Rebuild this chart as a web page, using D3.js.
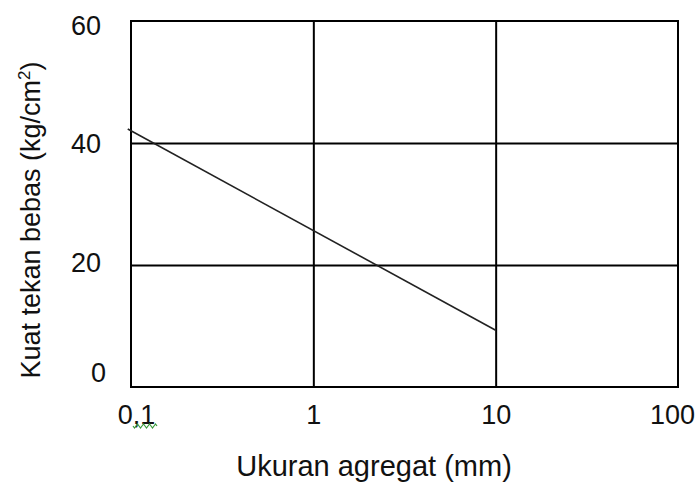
<!DOCTYPE html>
<html>
<head>
<meta charset="utf-8">
<script src="https://cdn.jsdelivr.net/npm/d3@7"></script>
<style>
  body { margin: 0; background: #fff; }
  svg { display: block; }
  text { font-family: "Liberation Sans", Arial, sans-serif; fill: #111; }
</style>
</head>
<body>
<svg width="699" height="482"></svg>
<script>
// aggregate size (mm) and unconfined compressive strength (kg/cm2)
var sizes = [0.096, 10];
var strength = [42.3, 9.3];

var xTicks = [0.1, 1, 10, 100];
var xTickLabels = ["0,1", "1", "10", "100"];
var yTicks = [0, 20, 40, 60];

var svg = d3.select("svg");
var plotLeft = 131, plotRight = 678, plotTop = 21, plotBottom = 387;

var xs = d3.scaleLog().domain([0.1, 100]).range([plotLeft, plotRight]);
var ys = d3.scaleLinear().domain([0, 60]).range([plotBottom, plotTop]);

// grid lines
svg.append("g")
    .attr("transform", "translate(0," + plotBottom + ")")
    .call(d3.axisBottom(xs).tickValues([1, 10]).tickSize(-(plotBottom - plotTop)).tickFormat(""))
    .call(function(g) { g.select(".domain").remove(); })
    .selectAll("line").attr("stroke", "#000").attr("stroke-width", 2);

svg.append("g")
    .attr("transform", "translate(" + plotLeft + ",0)")
    .call(d3.axisLeft(ys).tickValues([20, 40]).tickSize(-(plotRight - plotLeft)).tickFormat(""))
    .call(function(g) { g.select(".domain").remove(); })
    .selectAll("line").attr("stroke", "#000").attr("stroke-width", 2);

// frame
svg.append("rect")
    .attr("x", plotLeft).attr("y", plotTop)
    .attr("width", plotRight - plotLeft).attr("height", plotBottom - plotTop)
    .attr("fill", "none").attr("stroke", "#000").attr("stroke-width", 2);

// data line
var line = d3.line()
    .x(function(d, i) { return xs(sizes[i]); })
    .y(function(d, i) { return ys(strength[i]); });

svg.append("path")
    .datum(sizes)
    .attr("d", line)
    .attr("fill", "none")
    .attr("stroke", "#222")
    .attr("stroke-width", 1.6);

// x tick labels
var xAxis = d3.axisBottom(xs).tickValues(xTicks).tickSize(0)
    .tickFormat(function(d, i) { return xTickLabels[i]; });
var gx = svg.append("g")
    .attr("transform", "translate(0," + plotBottom + ")")
    .call(xAxis);
gx.select(".domain").remove();
gx.selectAll("text")
    .attr("y", 37)
    .attr("dy", 0)
    .style("font-size", "27px")
    .attr("dx", function(d, i) { return i == 0 ? 5 : (i == 3 ? -6 : 0); });

// spell-check squiggle under "0,1"
var sq = "M133,426";
for (var k = 0; k < 8; k++) {
    sq += " l1.5," + (k % 2 == 0 ? 2 : -2) + " l1.5," + (k % 2 == 0 ? -2 : 2);
}
svg.append("path").attr("d", sq).attr("fill", "none")
    .attr("stroke", "#3a9a3a").attr("stroke-width", 1.2);

// y tick labels
var yShift = { 0: -15, 20: -3, 40: 0, 60: 4 };
var yAxis = d3.axisLeft(ys).tickValues(yTicks).tickSize(0);
var gy = svg.append("g")
    .attr("transform", "translate(" + plotLeft + ",0)")
    .call(yAxis);
gy.select(".domain").remove();
gy.selectAll("text")
    .style("font-size", "27px")
    .attr("x", function(d) { return d == 0 ? -25 : -30; })
    .attr("dy", function(d) { return (yShift[d] + 9) + "px"; });

// axis titles
svg.append("text")
    .attr("x", 374)
    .attr("y", 476)
    .style("text-anchor", "middle")
    .style("font-size", "29px")
    .text("Ukuran agregat (mm)");

var yt = svg.append("text")
    .attr("transform", "translate(40,220) rotate(-90)")
    .style("text-anchor", "middle")
    .style("font-size", "27px");
yt.append("tspan").text("Kuat tekan bebas (kg/cm");
yt.append("tspan").attr("dy", "-10").style("font-size", "17px").text("2");
yt.append("tspan").attr("dy", "10").text(")");
</script>
</body>
</html>
